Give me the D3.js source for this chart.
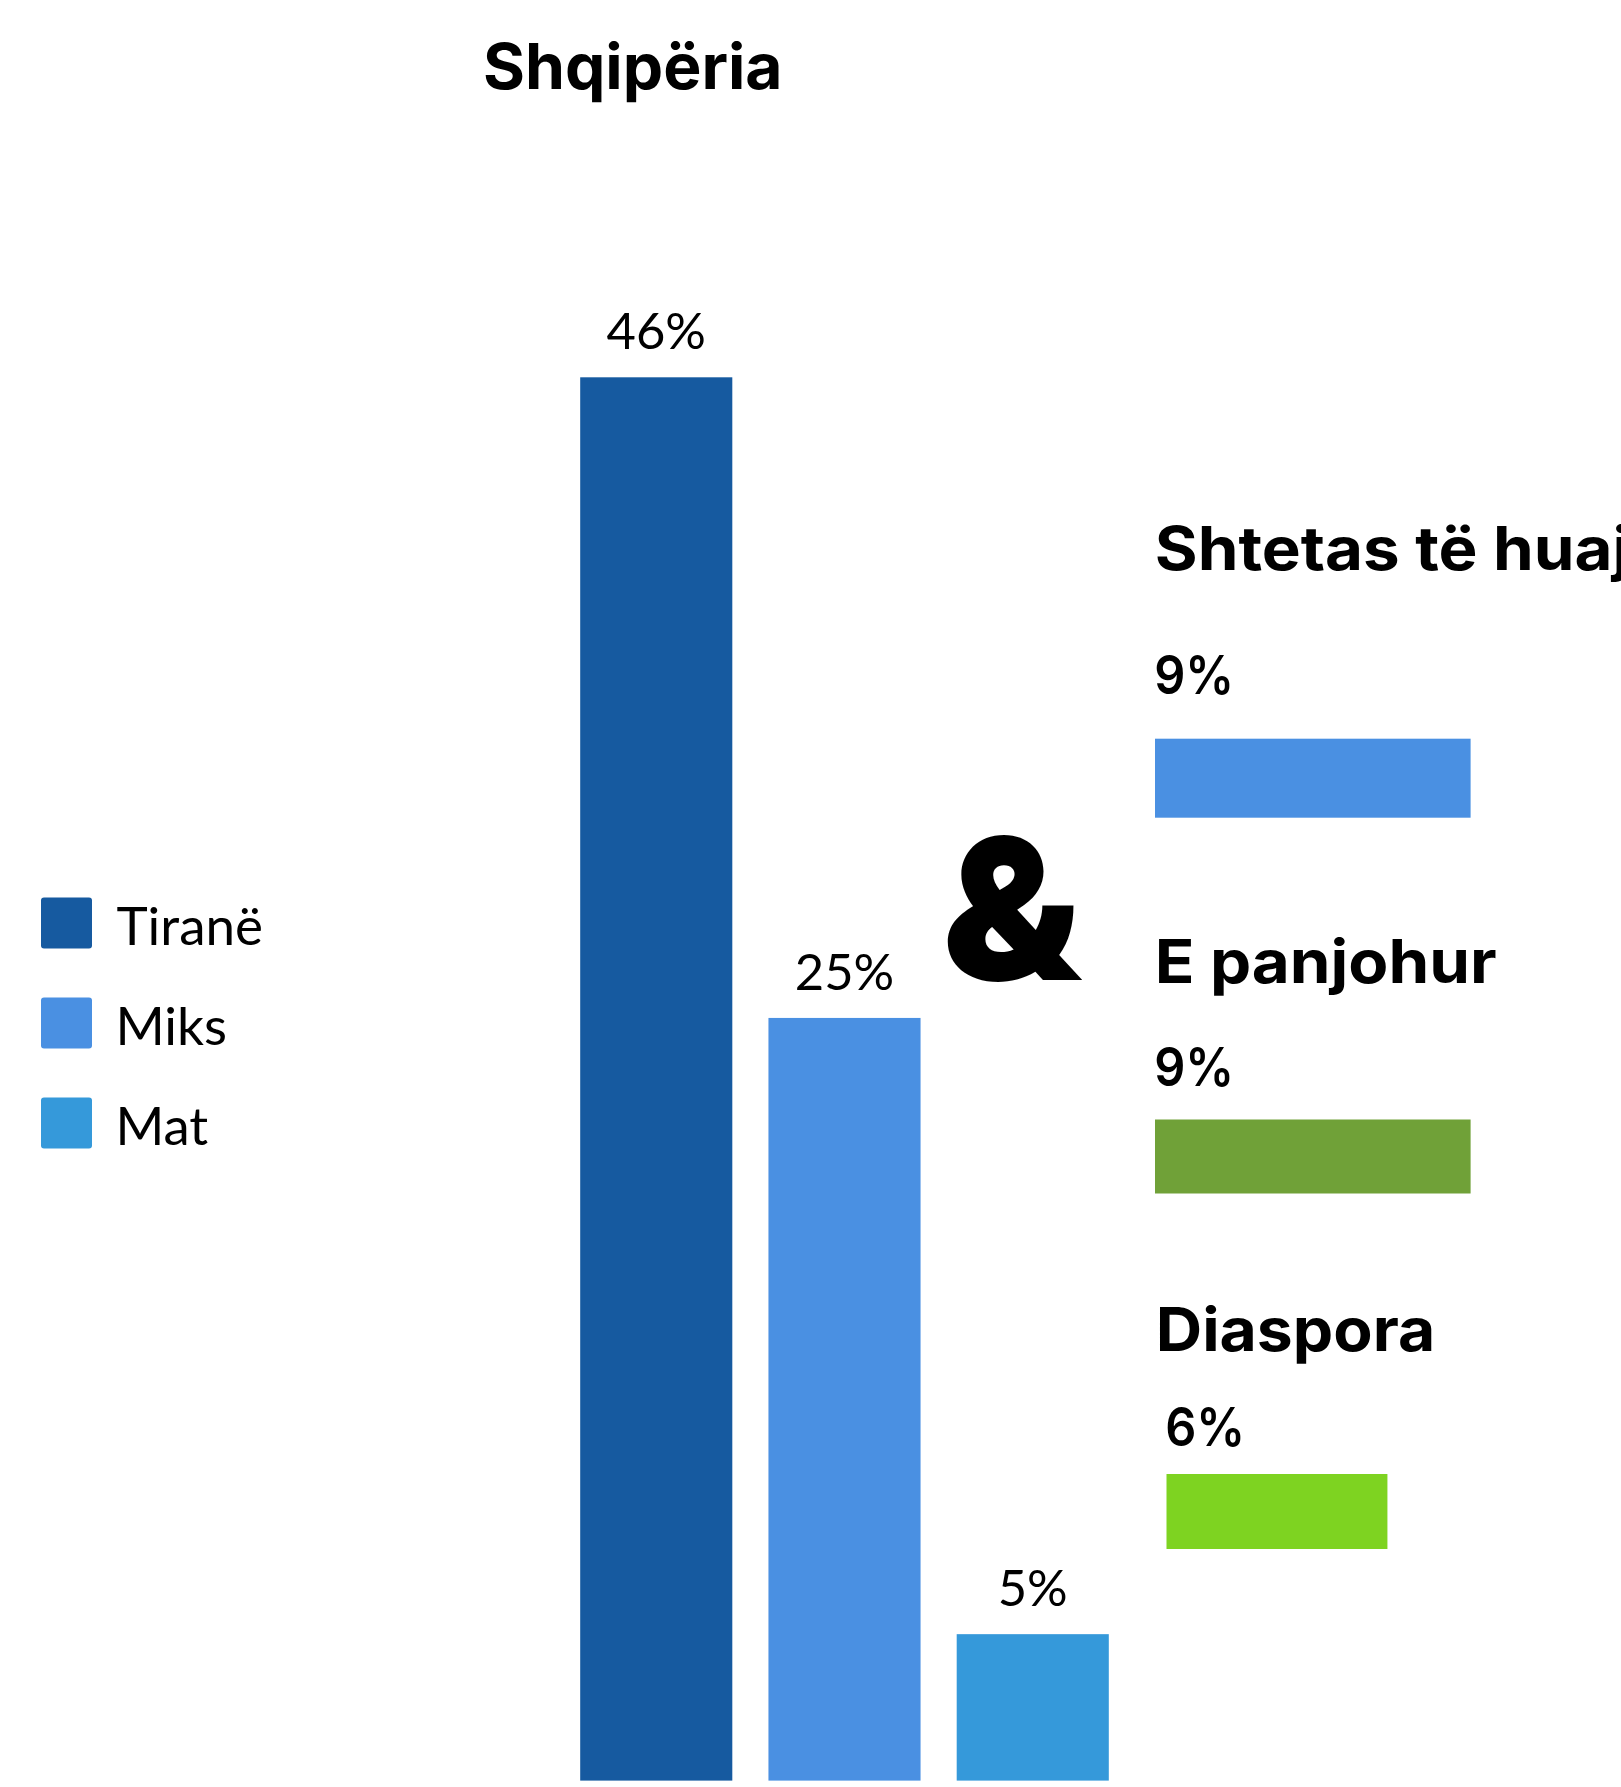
<!DOCTYPE html>
<html><head><meta charset="utf-8">
<script src="https://cdn.jsdelivr.net/npm/d3@7"></script>
<style>body{margin:0;background:#fff;} svg{display:block;}</style>
</head><body>
<script>
// ---- data ----
const title = "Shqipëria";
const categories = ["Tiranë", "Miks", "Mat"];
const values = [46, 25, 4.8];
const valueLabels = ["46%", "25%", "5%"];
const colors = ["#165AA0", "#4A90E2", "#3599DA"];

const otherCategories = ["Shtetas të huaj", "E panjohur", "Diaspora"];
const otherValues = [9, 9, 6.3];
const otherLabels = ["9%", "9%", "6%"];
const otherColors = ["#4A90E2", "#70A138", "#7ED321"];

// ---- layout ----
const W = 1621, H = 1787;
const svg = d3.select("body").append("svg").attr("width", W).attr("height", H);

const ctx = document.createElement("canvas").getContext("2d");
function ink(text, weight, family, size) {
  ctx.font = `${weight} ${size}px ${family}`;
  const m = ctx.measureText(text);
  return {l: m.actualBoundingBoxLeft, r: m.actualBoundingBoxRight,
          a: m.actualBoundingBoxAscent, d: m.actualBoundingBoxDescent, w: m.width};
}
function sizeForCap(weight, family, cap, probe = "H") {
  return 100 * cap / ink(probe, weight, family, 100).a;
}
function placeText(g, text, o) {
  const size = sizeForCap(o.weight, o.family, o.cap, o.probe || "H");
  const m = ink(text, o.weight, o.family, size);
  let s = 1;
  if (o.ratio) s = o.ratio;
  else if (o.width) s = o.width / (m.l + m.r);
  const t = g.append("text")
    .attr("font-family", o.family).attr("font-weight", o.weight)
    .attr("font-size", size).attr("fill", "#000")
    .attr("y", o.baseline).text(text);
  if (o.anchor === "middle") {
    t.attr("text-anchor", "middle").attr("x", o.x);
  } else {
    t.attr("x", o.x + m.l * s);
  }
  if (s !== 1) t.attr("textLength", m.w * s).attr("lengthAdjust", "spacingAndGlyphs");
  return {s, m};
}

const boldFam = "Inter, 'Open Sans', sans-serif";
const regFam = "Lato, 'Open Sans', sans-serif";

// Title
placeText(svg, title, {family: boldFam, weight: 700, cap: 46, x: 485, baseline: 89, width: 294});

// Vertical bars
const x = d3.scaleBand().domain(categories).range([580.2, 1108.8]).paddingInner(0.192).paddingOuter(0);
const y = d3.scaleLinear().domain([0, 46]).range([1780.6, 377.3]);

svg.append("g").selectAll("rect").data(categories).join("rect")
  .attr("x", d => x(d)).attr("width", x.bandwidth())
  .attr("y", (d, i) => y(values[i]))
  .attr("height", (d, i) => y(0) - y(values[i]))
  .attr("fill", (d, i) => colors[i]);

const vl = svg.append("g");
categories.forEach((c, i) => {
  placeText(vl, valueLabels[i], {family: regFam, weight: 400, cap: 37, probe: "4",
    x: x(c) + x.bandwidth() / 2, anchor: "middle", baseline: y(values[i]) - 28});
});

// Legend
const legendW = [145, 106, 89];
const legendX = [116.5, 119.5, 119.5];
const lg = svg.append("g");
categories.forEach((c, i) => {
  lg.append("rect").attr("x", 41).attr("y", 897.5 + i * 100)
    .attr("width", 51).attr("height", 51).attr("rx", 3).attr("fill", colors[i]);
  placeText(lg, c, {family: regFam, weight: 400, cap: 38, x: legendX[i], baseline: 945 + i * 100,
    width: legendW[i]});
});

// Ampersand
(function () {
  const fam = "Inter, Lato, sans-serif", wt = 900;
  const m100 = ink("&", wt, fam, 100);
  const size = 100 * 147 / (m100.a + m100.d);
  const m = ink("&", wt, fam, size);
  const s = 136 / (m.l + m.r);
  svg.append("text").attr("font-family", fam).attr("font-weight", wt)
    .attr("font-size", size).attr("x", 947 + m.l * s).attr("y", 982 - m.d)
    .attr("textLength", m.w * s).attr("lengthAdjust", "spacingAndGlyphs")
    .text("&");
})();

// Right-hand horizontal bars
const xh = d3.scaleLinear().domain([0, 9]).range([0, 315.6]);
const headBase = [570, 983, 1351];
const headX = [1157, 1158, 1159];
const headW = [null, 338, 273];
const pctBase = [694, 1086, 1446];
const pctX = [1156, 1156, 1167];
const barX = [1155, 1155, 1166.5];
const barY = [738.7, 1119.5, 1474];
const barH = [79, 74, 75];

const rg = svg.append("g");
let ratio = null;
[1, 2, 0].forEach(i => {
  const r = placeText(rg, otherCategories[i], {family: boldFam, weight: 700, cap: 44,
    x: headX[i], baseline: headBase[i], width: headW[i], ratio: headW[i] ? null : ratio});
  if (i === 1) ratio = r.s;
  placeText(rg, otherLabels[i], {family: boldFam, weight: 600, cap: 40, probe: "9",
    x: pctX[i], baseline: pctBase[i], width: 74});
  rg.append("rect").attr("x", barX[i]).attr("y", barY[i])
    .attr("width", xh(otherValues[i])).attr("height", barH[i])
    .attr("fill", otherColors[i]);
});
</script>
</body></html>
